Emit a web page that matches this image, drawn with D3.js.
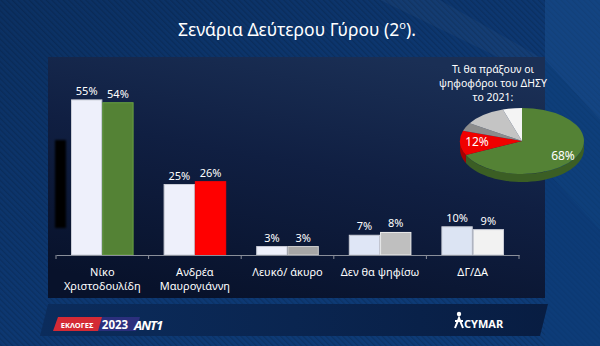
<!DOCTYPE html>
<html>
<head>
<meta charset="utf-8">
<script src="https://cdn.jsdelivr.net/npm/d3@7"></script>
<style>
  html, body { margin: 0; padding: 0; background: #0b3166; }
  svg { display: block; }
  text { font-family: "Noto Sans", "Open Sans", sans-serif; }
</style>
</head>
<body>
<svg id="chart" width="600" height="346"></svg>
<script>
// Grouped bars: two scenarios per answer
const categories = [
  ["Νίκο", "Χριστοδουλίδη"],
  ["Ανδρέα", "Μαυρογιάννη"],
  ["Λευκό/ άκυρο"],
  ["Δεν θα ψηφίσω"],
  ["ΔΓ/ΔΑ"]
];
const firstValues  = [55, 25, 3, 7, 10];
const secondValues = [54, 26, 3, 8, 9];
const firstColors  = ["#eef0fb", "#eef0fb", "#eef0fb", "#dfe6f6", "#dce4f3"];
const secondColors = ["#548235", "#ff0000", "#a6a6a6", "#bfbfbf", "#f2f2f2"];

// Pie: what 2021 ΔΗΣΥ voters will do
const pieLabels = ["Νίκο Χριστοδουλίδη", "Ανδρέα Μαυρογιάννη", "Λευκό/ άκυρο", "Δεν θα ψηφίσω", "ΔΓ/ΔΑ"];
const pieValues = [68, 12, 4, 11, 5];
const pieColors = ["#548235", "#f00000", "#8c8c8c", "#c4c4c4", "#f4f4f4"];
const pieSideColors = ["#3b5e24", "#a80000", "#5e5e5e", "#8a8a8a", "#b0b0b0"];
const pieShown = [true, true, false, false, false];

const titleMain = "Σενάρια Δεύτερου Γύρου (2";
const titleSup = "ο";
const titleEnd = ").";
const pieTitle = ["Τι θα πράξουν οι", "ψηφοφόροι του ΔΗΣΥ", "το 2021:"];

const svg = d3.select("#chart");
const defs = svg.append("defs");

// ---------- background ----------
const bg = defs.append("linearGradient").attr("id", "bgGrad")
  .attr("x1", 0).attr("y1", 0).attr("x2", 1).attr("y2", 1);
bg.append("stop").attr("offset", 0).attr("stop-color", "#0b3062");
bg.append("stop").attr("offset", 0.5).attr("stop-color", "#0d3872");
bg.append("stop").attr("offset", 1).attr("stop-color", "#0e3d7a");
svg.append("rect").attr("width", 600).attr("height", 346).attr("fill", "url(#bgGrad)");

// fine diagonal hatching
const hatch = defs.append("pattern").attr("id", "hatch")
  .attr("width", 4).attr("height", 4).attr("patternUnits", "userSpaceOnUse")
  .attr("patternTransform", "rotate(-45)");
hatch.append("rect").attr("width", 1.3).attr("height", 4).attr("fill", "#000").attr("opacity", 0.14);
svg.append("rect").attr("width", 600).attr("height", 346).attr("fill", "url(#hatch)");

// lighter facets on the right edge
svg.append("polygon").attr("points", "545,0 600,0 600,120 545,60").attr("fill", "#1a4f8e").attr("opacity", 0.55);
svg.append("polygon").attr("points", "545,60 600,120 600,230 545,170").attr("fill", "#0f427f").attr("opacity", 0.6);
svg.append("polygon").attr("points", "545,170 600,230 600,346 545,346").attr("fill", "#0d3c78").attr("opacity", 0.7);
svg.append("polygon").attr("points", "380,0 440,0 545,60 545,80").attr("fill", "#ffffff").attr("opacity", 0.03);

// ---------- title ----------
const title = svg.append("text").attr("x", 297).attr("y", 36)
  .attr("text-anchor", "middle").attr("fill", "#ffffff").attr("font-size", 17.5);
title.append("tspan").text(titleMain);
title.append("tspan").attr("font-size", 11).attr("dy", -7).text(titleSup);
title.append("tspan").attr("dy", 7).text(titleEnd);

// ---------- chart panel ----------
const pg = defs.append("linearGradient").attr("id", "panelGrad")
  .attr("x1", 0.7).attr("y1", 0).attr("x2", 0.3).attr("y2", 1);
pg.append("stop").attr("offset", 0).attr("stop-color", "#1a2f55");
pg.append("stop").attr("offset", 0.45).attr("stop-color", "#101f42");
pg.append("stop").attr("offset", 1).attr("stop-color", "#08122b");
svg.append("rect").attr("x", 48).attr("y", 57).attr("width", 497).attr("height", 241)
  .attr("fill", "url(#panelGrad)");

// dark smudge near the left edge of the panel
defs.append("filter").attr("id", "soft").append("feGaussianBlur").attr("stdDeviation", 1.2);
svg.append("rect").attr("x", 55).attr("y", 140).attr("width", 11).attr("height", 88)
  .attr("fill", "#000").attr("filter", "url(#soft)");

// ---------- footer strip ----------
const fg = defs.append("linearGradient").attr("id", "footGrad")
  .attr("x1", 0).attr("y1", 0).attr("x2", 1).attr("y2", 0);
fg.append("stop").attr("offset", 0).attr("stop-color", "#0b2c5c");
fg.append("stop").attr("offset", 0.5).attr("stop-color", "#0a2550");
fg.append("stop").attr("offset", 1).attr("stop-color", "#081d42");
svg.append("polygon").attr("points", "40,336 48,304 548,304 540,336").attr("fill", "url(#footGrad)");

// ---------- bars ----------
const x = d3.scaleBand().domain(d3.range(categories.length)).range([56, 519]).padding(0);
const bw = x.bandwidth();
const xInner = d3.scaleBand().domain([0, 1]).range([15.5, bw - 15.5]).paddingInner(0.03);
const y = d3.scaleLinear().domain([0, 60]).range([255, 255 - 60 * 2.82]);

const barG = svg.append("g");
const series = [
  { values: firstValues, colors: firstColors, idx: 0 },
  { values: secondValues, colors: secondColors, idx: 1 }
];
series.forEach(s => {
  barG.selectAll(null).data(s.values).enter().append("rect")
    .attr("x", (d, i) => x(i) + xInner(s.idx))
    .attr("y", d => y(d))
    .attr("width", xInner.bandwidth())
    .attr("height", d => y(0) - y(d))
    .attr("fill", (d, i) => s.colors[i])
    .attr("stroke", (d, i) => {
      const c = s.colors[i];
      return d3.hsl(c).l > 0.8 ? "#c9ccd6" : d3.color(c).brighter(0.6).formatHex();
    })
    .attr("stroke-width", 1);
  barG.selectAll(null).data(s.values).enter().append("text")
    .attr("x", (d, i) => x(i) + xInner(s.idx) + xInner.bandwidth() / 2)
    .attr("y", d => y(d) - 5)
    .attr("text-anchor", "middle")
    .attr("fill", "#ffffff")
    .attr("font-size", 11)
    .text(d => d + "%");
});

// category axis with ticks at band boundaries
const axisG = svg.append("g").attr("transform", "translate(0,255)");
axisG.call(d3.axisBottom(x).tickSize(0).tickFormat(""));
axisG.select(".domain").attr("stroke", "#8a8f9a").attr("stroke-width", 1);
const edges = d3.range(categories.length).map(i => x(i)).concat([x.range()[1]]);
axisG.selectAll(".edge").data(edges).enter().append("line")
  .attr("x1", d => d).attr("x2", d => d).attr("y1", 0).attr("y2", 4)
  .attr("stroke", "#8a8f9a");

const catG = svg.append("g");
categories.forEach((lines, i) => {
  const t = catG.append("text")
    .attr("x", x(i) + bw / 2).attr("y", 276)
    .attr("text-anchor", "middle").attr("fill", "#ffffff").attr("font-size", 11);
  lines.forEach((ln, k) => {
    t.append("tspan").attr("x", x(i) + bw / 2).attr("dy", k === 0 ? 0 : 14).text(ln);
  });
});

// ---------- 3D pie ----------
const cx = 522, cy = 141, rx = 62, ry = 33, depth = 8;
const pie = d3.pie().sort(null).value(d => d)(pieValues);
const pt = (a, dy) => [cx + rx * Math.sin(a), cy - ry * Math.cos(a) + dy];

const pieG = svg.append("g");
// side walls for the front-facing part of the rim
pie.forEach((p, i) => {
  const a0 = Math.max(p.startAngle, Math.PI / 2);
  const a1 = Math.min(p.endAngle, 3 * Math.PI / 2);
  if (a1 <= a0) return;
  const n = 40;
  const top = d3.range(n + 1).map(k => pt(a0 + (a1 - a0) * k / n, 0));
  const bot = d3.range(n + 1).map(k => pt(a1 - (a1 - a0) * k / n, depth));
  pieG.append("path")
    .attr("d", d3.line()(top.concat(bot)) + "Z")
    .attr("fill", pieSideColors[i]);
});
// top faces
const arc = d3.arc().innerRadius(0).outerRadius(rx);
const topG = pieG.append("g").attr("transform", `translate(${cx},${cy}) scale(1,${ry / rx})`);
topG.selectAll("path").data(pie).enter().append("path")
  .attr("d", arc)
  .attr("fill", (d, i) => pieColors[i]);

// slice labels
const labelPos = [[563, 160], [477, 146]];
pie.forEach((p, i) => {
  if (!pieShown[i]) return;
  pieG.append("text")
    .attr("x", labelPos[i][0]).attr("y", labelPos[i][1])
    .attr("text-anchor", "middle").attr("fill", "#ffffff").attr("font-size", 12)
    .text(pieValues[i] + "%");
});

// pie heading
const pt2 = svg.append("text").attr("text-anchor", "middle").attr("fill", "#ffffff").attr("font-size", 10.5);
pieTitle.forEach((ln, k) => {
  pt2.append("tspan").attr("x", 493).attr("y", 73 + k * 14).text(ln);
});

// ---------- footer logos ----------
const logo = svg.append("g");
logo.append("polygon").attr("points", "97,317 140,317 136,331 92,331").attr("fill", "#2b2f7d");
logo.append("polygon").attr("points", "58,317 102,317 98,331 53,331").attr("fill", "#d42a35");
logo.append("text").attr("x", 77).attr("y", 327.5).attr("text-anchor", "middle")
  .attr("fill", "#fff").attr("font-size", 7.5).attr("font-weight", "bold").text("ΕΚΛΟΓΕΣ");
logo.append("text").attr("x", 115).attr("y", 329).attr("text-anchor", "middle")
  .attr("fill", "#fff").attr("font-size", 11.5).attr("font-weight", "bold").text("2023");
logo.append("text").attr("x", 134).attr("y", 330).attr("fill", "#fff")
  .attr("font-size", 13).attr("font-weight", "bold").attr("font-style", "italic")
  .attr("letter-spacing", -1).text("ANT1");

const cym = svg.append("g");
cym.append("circle").attr("cx", 459).attr("cy", 314).attr("r", 2.2).attr("fill", "#fff");
cym.append("path").attr("d", "M455,328 L459,318 L463,328 M455,321 L463,321")
  .attr("stroke", "#fff").attr("stroke-width", 2).attr("fill", "none");
cym.append("text").attr("x", 464).attr("y", 328).attr("fill", "#fff")
  .attr("font-size", 11).attr("font-weight", "bold").text("CYMAR");
</script>
</body>
</html>
